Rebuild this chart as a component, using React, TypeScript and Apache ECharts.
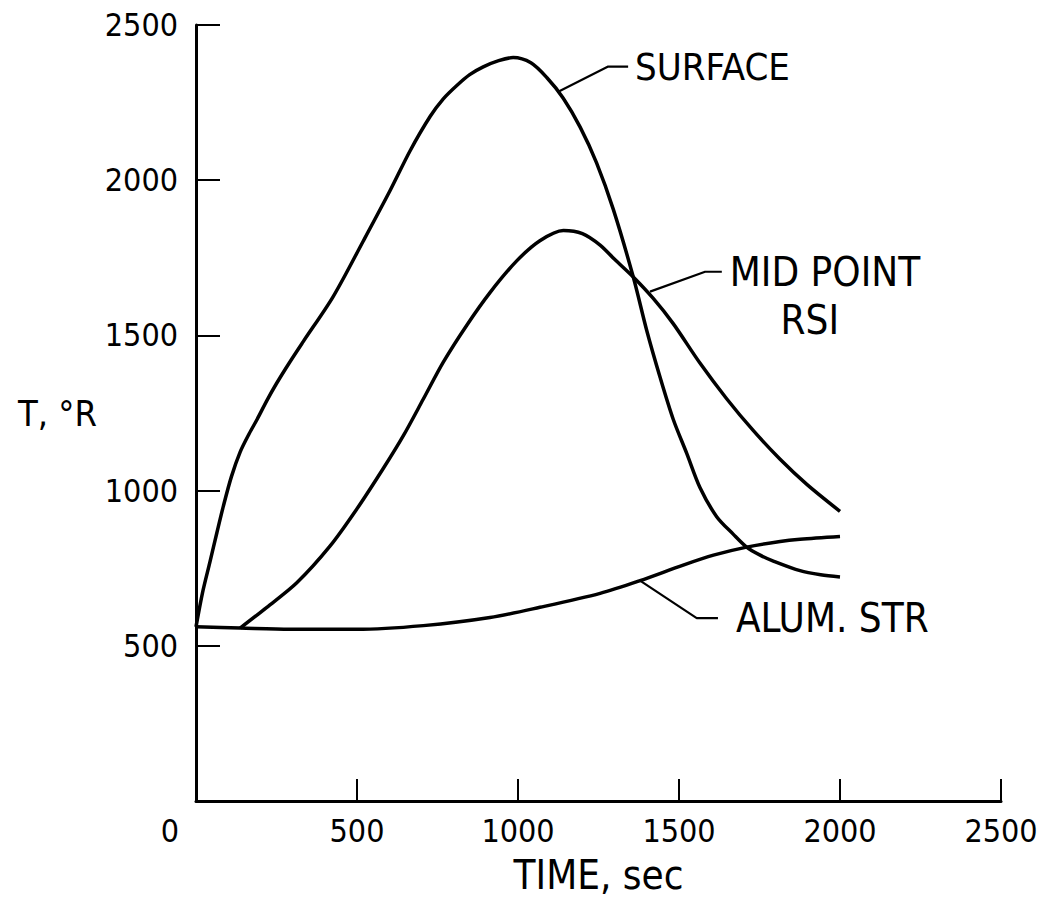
import React, { useEffect, useRef } from "react";
import * as echarts from "echarts";

const FONT = "'Liberation Sans Narrow', 'DejaVu Sans Condensed', 'Open Sans', sans-serif";

// SURFACE curve
const surfaceTime = [0, 20, 43, 65, 85, 110, 137, 165, 190, 220, 250, 290, 333, 426, 520, 602, 665, 727, 768, 810, 850, 892, 940, 985, 1040, 1090, 1140, 1193, 1244, 1296, 1358, 1400, 1441, 1482, 1524, 1565, 1617, 1669, 1710, 1752, 1793, 1876, 1940, 2000];
const surfaceTemp = [561, 670, 769, 865, 950, 1045, 1124, 1183, 1230, 1290, 1345, 1412, 1480, 1625, 1805, 1965, 2095, 2205, 2262, 2305, 2340, 2365, 2385, 2395, 2378, 2330, 2265, 2171, 2056, 1906, 1688, 1515, 1366, 1230, 1120, 1010, 916, 859, 818, 792, 773, 742, 729, 722];

// MID POINT RSI curve
const midTime = [137, 220, 313, 416, 499, 582, 644, 706, 768, 841, 913, 996, 1068, 1141, 1200, 1255, 1300, 1358, 1420, 1482, 1565, 1648, 1731, 1814, 1897, 2000];
const midTemp = [557, 624, 703, 821, 940, 1072, 1177, 1295, 1414, 1533, 1638, 1740, 1805, 1838, 1828, 1791, 1745, 1688, 1619, 1538, 1411, 1296, 1193, 1101, 1020, 933];

// ALUM. STR curve
const alumTime = [0, 137, 292, 499, 706, 913, 1068, 1255, 1379, 1513, 1607, 1710, 1814, 1876, 2000];
const alumTemp = [561, 557, 553, 553, 565, 591, 624, 669, 710, 760, 792, 818, 836, 843, 852];

// Axis ticks
const xTicks = [0, 500, 1000, 1500, 2000, 2500];
const yTicks = [0, 500, 1000, 1500, 2000, 2500];

// Annotation leader anchors (data units): curve point, elbow, end
const surfaceLeader = [[1125, 2285], [1280, 2366], [1342, 2366]];
const midLeader = [[1410, 1641], [1581, 1705], [1633, 1705]];
const alumLeader = [[1379, 710], [1555, 589], [1621, 589]];

const labelSurface = "SURFACE";
const labelMid = "MID POINT";
const labelRsi = "RSI";
const labelAlum = "ALUM. STR";

const zip = (xs: number[], ys: number[]) => xs.map((x, i) => [x, ys[i]]);

export default function App() {
  const ref = useRef<HTMLDivElement>(null);
  useEffect(() => {
    if (!ref.current) return;
    const chart = echarts.init(ref.current, undefined, { renderer: "svg" });
    const curve = (name: string, data: number[][]) => ({
      name,
      type: "line",
      data,
      smooth: 0.3,
      symbol: "none",
      silent: true,
      lineStyle: { color: "#000", width: 3.5 },
    });
    const leader = (name: string, data: number[][]) => ({
      name,
      type: "line",
      data,
      smooth: false,
      symbol: "none",
      silent: true,
      lineStyle: { color: "#000", width: 2.2 },
    });
    chart.setOption({
      animation: false,
      backgroundColor: "#fff",
      grid: { left: 196, top: 25, right: 44, bottom: 99, containLabel: false },
      xAxis: {
        type: "value",
        min: xTicks[0],
        max: xTicks[xTicks.length - 1],
        interval: 500,
        name: "TIME, sec",
        nameLocation: "middle",
        nameGap: 54,
        nameTextStyle: { fontSize: 40, color: "#000", fontFamily: FONT, align: "center", verticalAlign: "top" },
        axisLine: { show: true, onZero: false, lineStyle: { color: "#000", width: 3 } },
        axisTick: { show: true, inside: true, length: 22, lineStyle: { color: "#000", width: 2 } },
        axisLabel: {
          color: "#000",
          fontSize: 32,
          fontFamily: FONT,
          margin: 14,
          formatter: (v: number) => (v === 0 ? "{z|0}" : String(v)),
          rich: { z: { fontSize: 32, fontFamily: FONT, color: "#000", padding: [0, 52, 0, 0] } },
        },
        splitLine: { show: false },
      },
      yAxis: {
        type: "value",
        min: yTicks[0],
        max: yTicks[yTicks.length - 1],
        interval: 500,
        name: "T, °R",
        nameLocation: "middle",
        nameRotate: 0,
        nameGap: 99,
        nameTextStyle: { fontSize: 36, color: "#000", fontFamily: FONT, align: "right", verticalAlign: "middle" },
        axisLine: { show: true, onZero: false, lineStyle: { color: "#000", width: 3 } },
        axisTick: { show: true, inside: true, length: 24, lineStyle: { color: "#000", width: 2 } },
        axisLabel: {
          color: "#000",
          fontSize: 32,
          fontFamily: FONT,
          margin: 18,
          formatter: (v: number) => (v === 0 ? "" : String(v)),
        },
        splitLine: { show: false },
      },
      series: [
        curve("SURFACE", zip(surfaceTime, surfaceTemp)),
        curve("MID POINT RSI", zip(midTime, midTemp)),
        curve("ALUM. STR", zip(alumTime, alumTemp)),
        leader("surface-leader", surfaceLeader),
        leader("mid-leader", midLeader),
        leader("alum-leader", alumLeader),
      ],
    });

    const px = (p: number[]) => chart.convertToPixel({ gridIndex: 0 }, p) as number[];
    const sEnd = px(surfaceLeader[2]);
    const mEnd = px(midLeader[2]);
    const aEnd = px(alumLeader[2]);
    const txt = (text: string, x: number, y: number, align: string, size: number) => ({
      type: "text",
      silent: true,
      style: {
        text,
        x,
        y,
        fill: "#000",
        fontSize: size,
        fontFamily: FONT,
        align,
        verticalAlign: "middle",
      },
    });
    chart.setOption({
      graphic: [
        txt(labelSurface, sEnd[0] + 7, sEnd[1], "left", 38),
        txt(labelMid, mEnd[0] + 8, mEnd[1], "left", 40),
        txt(labelRsi, mEnd[0] + 88, mEnd[1] + 48, "center", 40),
        txt(labelAlum, aEnd[0] + 18, aEnd[1], "left", 40),
      ],
    });

    return () => chart.dispose();
  }, []);
  return (
    <div
      ref={ref}
      style={{ position: "absolute", left: 0, top: 0, width: 1045, height: 900 }}
    />
  );
}
